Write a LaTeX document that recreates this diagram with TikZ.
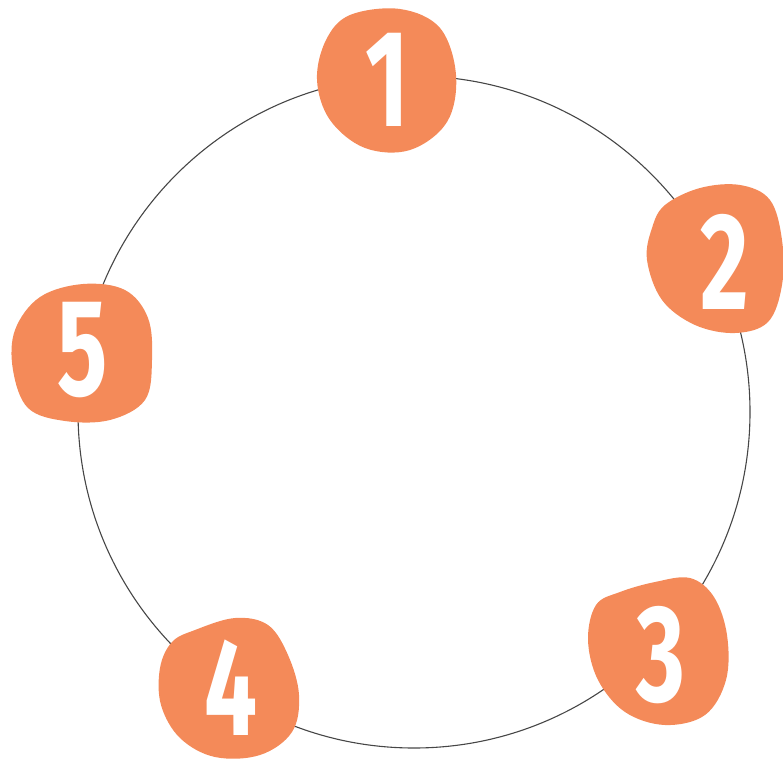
\documentclass[tikz,border=0pt]{standalone}
\usepackage{fontspec}
\setmainfont{Fira Sans}
\usepackage{xcolor}
\usetikzlibrary{math}
\definecolor{myorange}{RGB}{244, 138, 89}
\definecolor{mygray}{RGB}{70, 70, 70}
\newcommand{\digit}[1]{\scalebox{0.68}[1]{#1}}

\begin{document}
\begin{tikzpicture}[x=1pt,y=-1pt,
  blob/.style={fill=myorange},
  num/.style={text=white,inner sep=0pt,font=\bfseries\fontsize{138}{138}\selectfont}]
\tikzmath{
\R=336;
}
\useasboundingbox (0,0) rectangle (783,760);

\coordinate (O) at (414,412);
\draw[color=mygray,line width=1.1] (O) circle (\R pt);

% blobs
\fill[blob] plot[smooth cycle,tension=0.6] coordinates {(350,15) (400,9) (440,28) (456,75) (447,122) (410,150) (365,148) (330,120) (317,80) (326,40)};
\fill[blob] plot[smooth cycle,tension=0.6] coordinates {(665,205) (700,188) (740,185) (770,200) (782,240) (782,285) (768,322) (735,333) (695,325) (662,300) (647,260) (652,228)};
\fill[blob] plot[smooth cycle,tension=0.6] coordinates {(620,592) (655,582) (690,578) (714,597) (727,635) (726,680) (705,715) (665,725) (625,712) (598,680) (588,640) (596,605)};
\fill[blob] plot[smooth cycle,tension=0.6] coordinates {(195,630) (235,618) (268,625) (288,655) (299,695) (292,732) (260,755) (215,757) (180,738) (161,705) (160,668) (172,642)};
\fill[blob] plot[smooth cycle,tension=0.6] coordinates {(40,297) (83,284) (125,290) (148,318) (152,360) (145,400) (110,420) (65,421) (28,408) (13,370) (15,330)};

% numbers
\node[num] (n1) at (387,80) {\digit{1}};
\node[num] (n2) at (725,262) {\digit{2}};
\node[num] (n3) at (661,655) {\digit{3}};
\node[num] (n4) at (231,688) {\digit{4}};
\node[num] (n5) at (83,350) {\digit{5}};

\end{tikzpicture}
\end{document}
